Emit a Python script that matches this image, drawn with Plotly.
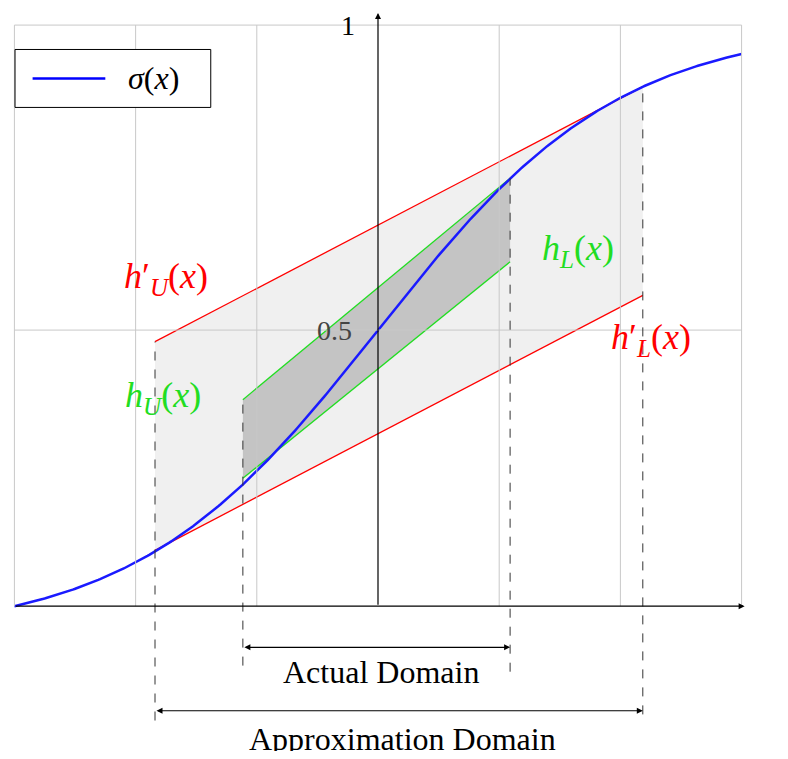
import numpy as np
import plotly.graph_objects as go

# domains and bound lines (data units)
x_lo, x_hi = -6, 6
approx_dom = [-3.68, 4.37]
actual_dom = [-2.23, 2.18]
hU_prime = [0.481, 0.899]   # red upper at approx_dom ends
hL_prime = [0.139, 0.557]   # red lower
hU = [0.386, 0.749]         # green upper at actual_dom ends
hL = [0.257, 0.612]         # green lower
grid_x = [-6, -4, -2, 2, 4, 6]

def sigma(x):
    return 1 / (1 + np.exp(-0.5 * x))

y0 = sigma(x_lo)
y1 = 1.0
xs = np.linspace(x_lo, x_hi, 400)

fig = go.Figure()
# light gray band between red lines
fig.add_trace(go.Scatter(x=approx_dom + approx_dom[::-1], y=hU_prime + hL_prime[::-1],
                         fill="toself", fillcolor="#f0f0f0", line=dict(width=0), mode="lines"))
fig.add_trace(go.Scatter(x=actual_dom + actual_dom[::-1], y=hU + hL[::-1],
                         fill="toself", fillcolor="#c4c4c4", line=dict(width=0), mode="lines"))

shapes = []
for gx in grid_x:
    shapes.append(dict(type="line", x0=gx, x1=gx, y0=y0, y1=y1, line=dict(color="#c8c8c8", width=1)))
for gy in [0.5, y1]:
    shapes.append(dict(type="line", x0=x_lo, x1=x_hi, y0=gy, y1=gy, line=dict(color="#c8c8c8", width=1)))
# dashed verticals
dash_spec = [(approx_dom[0], hU_prime[0], -0.14), (approx_dom[1], hU_prime[1], -0.13),
             (actual_dom[0], hU[0], -0.05), (actual_dom[1], hU[1], -0.06)]
for dx, top, bot in dash_spec:
    shapes.append(dict(type="line", x0=dx, x1=dx, y0=bot, y1=top, line=dict(color="#333", width=1, dash="dash")))
# legend box
shapes.append(dict(type="rect", x0=-5.99, x1=-2.76, y0=0.96, y1=0.865, line=dict(color="black", width=1),
                   fillcolor="white"))
shapes.append(dict(type="line", x0=-5.7, x1=-4.5, y0=0.9125, y1=0.9125, line=dict(color="blue", width=2.5)))

fig.add_trace(go.Scatter(x=approx_dom, y=hU_prime, mode="lines", line=dict(color="red", width=1.3)))
fig.add_trace(go.Scatter(x=approx_dom, y=hL_prime, mode="lines", line=dict(color="red", width=1.3)))
fig.add_trace(go.Scatter(x=actual_dom, y=hU, mode="lines", line=dict(color="#22dd22", width=1.3)))
fig.add_trace(go.Scatter(x=actual_dom, y=hL, mode="lines", line=dict(color="#22dd22", width=1.3)))
fig.add_trace(go.Scatter(x=xs, y=sigma(xs), mode="lines", line=dict(color="#1a1aff", width=2.5)))

serif = "Liberation Serif"
ann = []
def arrow(xa, ya, xb, yb, side="end"):
    ann.append(dict(x=xb, y=yb, ax=xa, ay=ya, xref="x", yref="y", axref="x", ayref="y", text="",
                    showarrow=True, arrowhead=2, arrowsize=1, arrowwidth=1.2, arrowside=side,
                    arrowcolor="black"))
arrow(x_lo, y0, x_hi + 0.05, y0)
arrow(0, y0, 0, y1 + 0.02)
arrow(actual_dom[0], -0.02, actual_dom[1], -0.02, "end+start")
arrow(approx_dom[0], -0.124, approx_dom[1], -0.124, "end+start")

def label(x, y, text, color="black", size=36):
    ann.append(dict(x=x, y=y, text=text, showarrow=False, font=dict(family=serif, size=size, color=color)))
label(-0.5, 1.0, "1", size=28)
label(-0.72, 0.5, "0.5", color="#444", size=28)
label(-3.5, 0.585, "<i>h</i>′<sub><i>U</i></sub>(<i>x</i>)", "red")
label(3.3, 0.63, "<i>h</i><sub><i>L</i></sub>(<i>x</i>)", "#22dd22")
label(4.5, 0.485, "<i>h</i>′<sub><i>L</i></sub>(<i>x</i>)", "red")
label(-3.55, 0.39, "<i>h</i><sub><i>U</i></sub>(<i>x</i>)", "#22dd22")
label(-3.7, 0.9125, "<i>σ</i>(<i>x</i>)", size=32)
label(0.05, -0.061, "Actual Domain", size=32)
label(0.4, -0.17, "Approximation Domain", size=32)

fig.update_layout(width=772, height=743, margin=dict(l=0, r=0, t=0, b=0), showlegend=False,
                  plot_bgcolor="white", paper_bgcolor="white", shapes=shapes, annotations=ann,
                  xaxis=dict(range=[-6.106, 6.634], visible=False),
                  yaxis=dict(range=[-0.19, 1.028], visible=False))
fig.write_html("out.html")
